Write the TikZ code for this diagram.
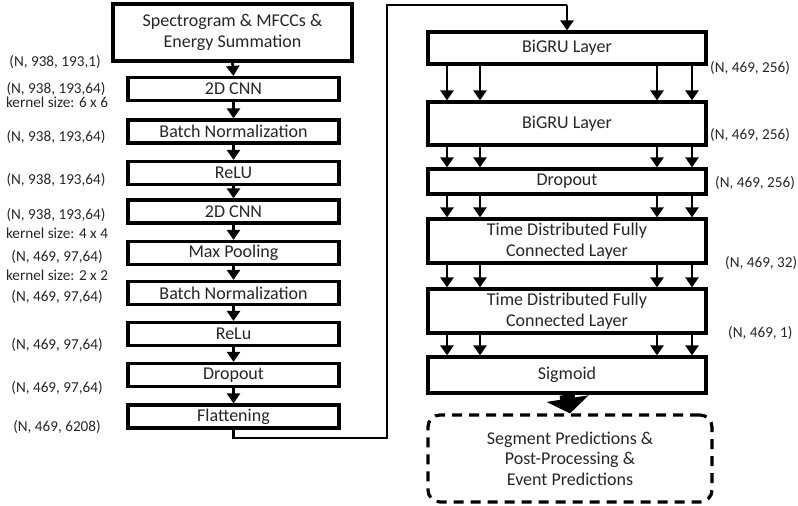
\documentclass[tikz,border=0pt]{standalone}
\usepackage{fontspec}
\setmainfont{Carlito}
\usetikzlibrary{arrows.meta}
\begin{document}
\begin{tikzpicture}[x=1pt,y=-1pt,
  box/.style={draw, line width=3.2pt, inner sep=0pt, align=center, text=black!85, font=\fontsize{18}{20.5}\selectfont},
  lbox/.style={box, minimum width=211pt, minimum height=23pt},
  rbox/.style={box, minimum width=278pt},
  lab/.style={inner sep=0pt, text=black!85, font=\fontsize{15.2}{15}\selectfont},
  arr/.style={line width=2.8pt, -{Triangle[length=10pt,width=13pt]}},
  conn/.style={line width=2.8pt}
]
\useasboundingbox (0,0) rectangle (798,506);
% left column
\node[box, minimum width=239pt, minimum height=57pt] (spec) at (232.5,32.5) {Spectrogram \& MFCCs \&\\Energy Summation};
\node[lbox] (cnn1) at (233.5,89) {2D CNN};
\node[lbox] (bn1) at (233.5,131.5) {Batch Normalization};
\node[lbox] (relu1) at (233.5,173) {ReLU};
\node[lbox] (cnn2) at (233.5,211.5) {2D CNN};
\node[lbox] (pool) at (233.5,253) {Max Pooling};
\node[lbox] (bn2) at (233.5,293) {Batch Normalization};
\node[lbox] (relu2) at (233.5,334) {ReLu};
\node[lbox] (drop1) at (233.5,375) {Dropout};
\node[lbox] (flat) at (233.5,416.5) {Flattening};
\foreach \a/\b in {spec/cnn1,cnn1/bn1,bn1/relu1,relu1/cnn2,cnn2/pool,pool/bn2,bn2/relu2,relu2/drop1,drop1/flat}
  \draw[arr] (\a.south) -- (\b.north);
% left labels
\node[lab] (l1) at (55,62) {(N, 938, 193,1)};
\node[lab] (l2) at (56,89) {(N, 938, 193,64)};
\node[lab] (l2k) at (57,102) {kernel size: 6 x 6};
\node[lab] (l3) at (56,137) {(N, 938, 193,64)};
\node[lab] (l4) at (56,180) {(N, 938, 193,64)};
\node[lab] (l5) at (56,215) {(N, 938, 193,64)};
\node[lab] (l5k) at (57,233) {kernel size: 4 x 4};
\node[lab] (l6) at (57,257) {(N, 469, 97,64)};
\node[lab] (l6k) at (57,275) {kernel size: 2 x 2};
\node[lab] (l7) at (57,297) {(N, 469, 97,64)};
\node[lab] (l8) at (57,345) {(N, 469, 97,64)};
\node[lab] (l9) at (57,388) {(N, 469, 97,64)};
\node[lab] (l10) at (57,427) {(N, 469, 6208)};
% right column
\node[rbox, minimum height=32pt] (gru1) at (567,48) {BiGRU Layer};
\node[rbox, minimum height=43pt] (gru2) at (567,123.5) {BiGRU Layer};
\node[rbox, minimum height=25pt] (drop2) at (567,181.5) {Dropout};
\node[rbox, minimum height=44pt] (fc1) at (567,241) {Time Distributed Fully\\Connected Layer};
\node[rbox, minimum height=44pt] (fc2) at (567,311) {Time Distributed Fully\\Connected Layer};
\node[rbox, minimum height=36pt] (sig) at (567,375) {Sigmoid};
\node[box, dashed, dash pattern=on 10pt off 7pt, rounded corners=12pt, minimum width=284pt, minimum height=87pt] (pred) at (570,458.5) {Segment Predictions \&\\Post-Processing \&\\Event Predictions};
% column arrows
\coordinate (c1) at (447,0);
\coordinate (c2) at (480,0);
\coordinate (c3) at (657,0);
\coordinate (c4) at (692,0);
\foreach \a/\b in {gru1/gru2,gru2/drop2,drop2/fc1,fc1/fc2,fc2/sig}
  \foreach \c in {c1,c2,c3,c4}
    \draw[arr] (\a.south -| \c) -- (\b.north -| \c);
% big arrow
\draw[line width=15pt, -{Triangle[length=15pt,width=42pt]}] (sig.south) -- (pred.north);
% connector
\coordinate (k1) at (387,438);
\coordinate (k2) at (567,5);
\draw[conn] (flat.south) |- (k1) |- (k2);
\draw[arr] (k2) -- (gru1.north);
% right labels
\node[lab, anchor=west] (r1) at (710,68) {(N, 469, 256)};
\node[lab, anchor=west] (r2) at (710,135) {(N, 469, 256)};
\node[lab, anchor=west] (r3) at (715,183) {(N, 469, 256)};
\node[lab, anchor=west] (r4) at (725,263) {(N, 469, 32)};
\node[lab, anchor=west] (r5) at (728,333) {(N, 469, 1)};
\end{tikzpicture}
\end{document}
